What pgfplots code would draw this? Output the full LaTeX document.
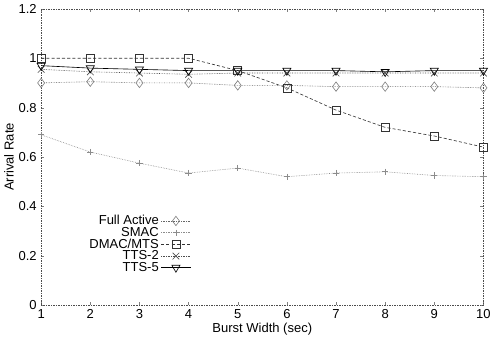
\documentclass[border=0pt]{standalone}
\usepackage{fontspec}
\setmainfont{Liberation Sans}
\usepackage{pgfplots}
\pgfplotsset{compat=1.18}
\begin{document}
\fontsize{12.5}{14}\selectfont
\begin{tikzpicture}[x=1bp,y=1bp]
\begin{axis}[
  scale only axis, width=424bp, height=284bp,
  xmin=1, xmax=10, ymin=0, ymax=1.2,
  xtick={1,...,10}, ytick={0,0.2,...,1.2},
  yticklabels={0,0.2,0.4,0.6,0.8,1,1.2},
  /pgf/number format/assume math mode=true,
  tick align=inside, major tick length=3bp,
  axis line style={black!70, densely dotted, line width=0.6pt},
  xlabel={Burst Width (sec)}, ylabel={Arrival Rate},
  xlabel style={yshift=4bp}, ylabel style={yshift=-4bp},
  legend plot pos=right, legend cell align=right,
  legend style={draw=none, fill=none, at={(0.097,0.318)}, anchor=north west, row sep=-3.5bp, font=\fontsize{12.5}{13}\selectfont},
  legend image code/.code={\draw[mark repeat=2,mark phase=2] plot coordinates {(0cm,0cm)(0.5cm,0cm)(1cm,0cm)};},
  every axis plot/.append style={line width=0.6pt},
  mark size=4.5bp,
]
\addplot[black!60, densely dotted, mark=diamond, mark options={solid, black!50}] coordinates {(1,0.9)(2,0.905)(3,0.9)(4,0.9)(5,0.89)(6,0.89)(7,0.885)(8,0.885)(9,0.885)(10,0.88)};
\addlegendentry{Full Active}
\addplot[black!45, densely dotted, mark=+, mark size=3bp, mark options={solid, black!45}] coordinates {(1,0.69)(2,0.62)(3,0.575)(4,0.535)(5,0.555)(6,0.52)(7,0.535)(8,0.54)(9,0.525)(10,0.52)};
\addlegendentry{SMAC}
\addplot[black!80, densely dashed, mark=square, mark size=3.8bp, mark options={solid, black!80}] coordinates {(1,1.0)(2,1.0)(3,1.0)(4,1.0)(5,0.95)(6,0.88)(7,0.79)(8,0.72)(9,0.685)(10,0.64)};
\addlegendentry{DMAC/MTS}
\addplot[black!70, densely dotted, mark=x, mark options={solid, black!70}] coordinates {(1,0.955)(2,0.945)(3,0.94)(4,0.935)(5,0.94)(6,0.94)(7,0.94)(8,0.94)(9,0.94)(10,0.94)};
\addlegendentry{TTS-2}
\addplot[black, solid, mark=triangle, mark options={solid, black, rotate=180}] coordinates {(1,0.97)(2,0.96)(3,0.955)(4,0.95)(5,0.95)(6,0.95)(7,0.95)(8,0.945)(9,0.95)(10,0.95)};
\addlegendentry{TTS-5}
\end{axis}
\end{tikzpicture}
\end{document}
